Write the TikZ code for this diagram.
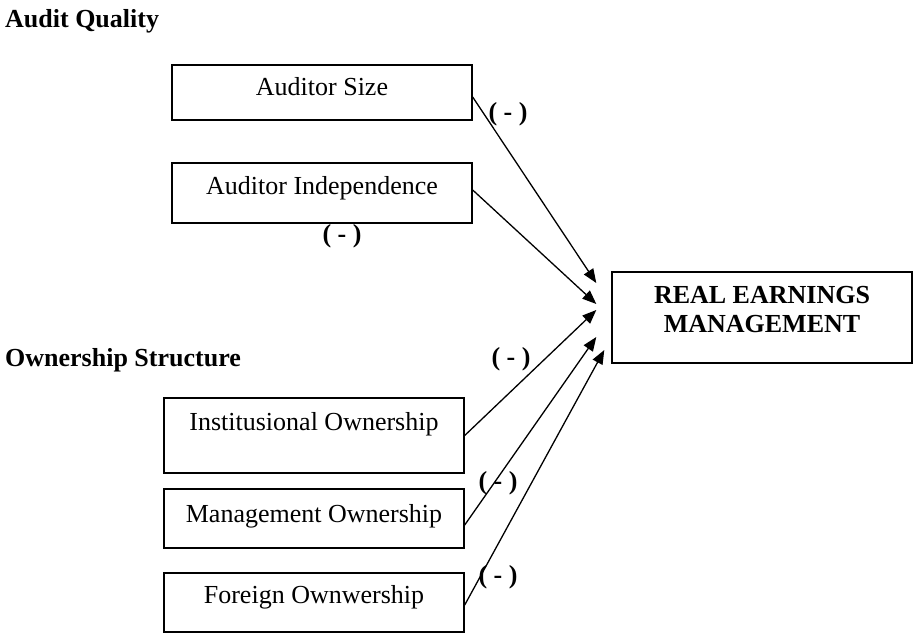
\documentclass[tikz,border=0pt]{standalone}
\usepackage{fontspec}
\setmainfont{Liberation Serif}
\usetikzlibrary{calc,arrows.meta}

\begin{document}
\begin{tikzpicture}[x=1pt,y=-1pt]
      \tikzstyle{box}=[draw, line width=1.4pt, minimum width=300pt, inner sep=0pt, font=\fontsize{26}{29}\selectfont];
      \tikzstyle{head}=[inner sep=0pt, font=\fontsize{26}{29}\selectfont\bfseries];
      \tikzstyle{sign}=[inner sep=0pt, font=\fontsize{26}{29}\selectfont\bfseries];
      \tikzstyle{link}=[line width=1.3pt, -{Triangle[length=14pt,width=11pt]}];

      \useasboundingbox (0,0) rectangle (914,635);

      % group headings
      \node[head, anchor=base west] (audit) at (5,27) {Audit Quality};
      \node[head, anchor=base west] (owner) at (5,366) {Ownership Structure};

      % independent variables
      \node[box, text height=30pt, text depth=25pt] (size) at (322,92.5) {Auditor Size};
      \node[box, text height=31pt, text depth=29pt] (indep) at (322,193) {Auditor Independence};
      \node[box, text height=32pt, text depth=43pt] (inst) at (314,435.5) {Institusional Ownership};
      \node[box, text height=33pt, text depth=26pt] (mgmt) at (314,518.5) {Management Ownership};
      \node[box, text height=30pt, text depth=29pt] (foreign) at (314,602.5) {Foreign Ownwership};

      % dependent variable
      \node[box, minimum height=91pt] (rem) at (762,317.5) {};
      \node[head, align=center, anchor=north] (remtext) at ($(rem.north)+(0,15)$) {REAL EARNINGS\\MANAGEMENT};

      \coordinate (t1) at ($(rem.west)+(-15,-34.5)$);
      \coordinate (t2) at ($(rem.west)+(-15,-13.5)$);
      \coordinate (t3) at ($(rem.west)+(-15,-7.5)$);
      \coordinate (t4) at ($(rem.west)+(-15,19.5)$);
      \coordinate (t5) at ($(rem.west)+(-7,32.5)$);

      \draw[link] ($(size.east)+(0,4.5)$) -- (t1);
      \draw[link] ($(indep.east)+(0,-3)$) -- (t2);
      \draw[link] (inst.east) -- (t3);
      \draw[link] ($(mgmt.east)+(0,6.5)$) -- (t4);
      \draw[link] ($(foreign.east)+(0,2.5)$) -- (t5);

      % signs
      \node[sign] (s1) at (508,114) {( - )};
      \node[sign] (s2) at (342,236) {( - )};
      \node[sign] (s3) at (511,359) {( - )};
      \node[sign] (s4) at (498,483) {( - )};
      \node[sign] (s5) at (498,577) {( - )};
\end{tikzpicture}
\end{document}
